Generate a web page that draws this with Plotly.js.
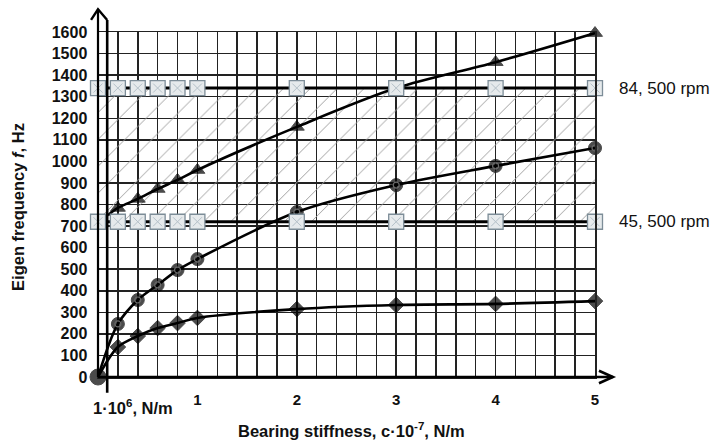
<!DOCTYPE html>
<html>
<head>
<meta charset="utf-8">
<script src="https://cdn.plot.ly/plotly-3.0.1.min.js"></script>
<style>html,body{margin:0;padding:0;background:#fff;}#chart{width:715px;height:443px;}</style>
</head>
<body>
<div id="chart"></div>
<script>
// ---- data ----
const triX = [0.1, 0.2, 0.4, 0.6, 0.8, 1, 2, 3, 4, 5];
const triY = [750, 784, 826, 872, 914, 960, 1160, 1340, 1460, 1595];
const circX = [0, 0.2, 0.4, 0.6, 0.8, 1, 2, 3, 4, 5];
const circY = [0, 246, 357, 427, 496, 547, 765, 890, 979, 1062];
const diaX = [0, 0.2, 0.4, 0.6, 0.8, 1, 2, 3, 4, 5];
const diaY = [0, 139, 190, 227, 250, 274, 315, 334, 339, 352];
const rpmX = [0, 0.2, 0.4, 0.6, 0.8, 1, 2, 3, 4, 5];
const rpmHigh = 1340;   // 84,500 rpm
const rpmLow = 720;     // 45,500 rpm
const rpmLabels = ["84, 500 rpm", "45, 500 rpm"];
const xTicks = [1, 2, 3, 4, 5];
const xTickText = ["1", "2", "3", "4", "5"];
const xGridStep = 0.2;

const FONT = "Arial, 'Liberation Sans', sans-serif";
const LINE = {color: '#000', width: 2.6, shape: 'spline', smoothing: 0.9};

// grid positions every 0.2, labels only at the integer ticks
const gridVals = [];
for (let i = 0; i <= Math.round(5 / xGridStep); i++) gridVals.push(+(i * xGridStep).toFixed(2));
const gridText = gridVals.map(v => {
  const k = xTicks.indexOf(v);
  return k >= 0 ? xTickText[k] : ' ';
});

const traces = [];
// hatched band between the two operating frequencies
traces.push({
  x: [rpmX[0], rpmX[rpmX.length-1], rpmX[rpmX.length-1], rpmX[0]],
  y: [rpmLow, rpmLow, rpmHigh, rpmHigh],
  mode: 'none', fill: 'toself', fillcolor: 'rgba(0,0,0,0)',
  fillpattern: {shape: '/', size: 19, solidity: 0.05, fgcolor: '#9c9c9c', bgcolor: 'rgba(0,0,0,0)'},
  hoverinfo: 'skip', showlegend: false
});
// triangles
traces.push({
  x: triX, y: triY, mode: 'lines+markers', line: LINE, cliponaxis: false,
  marker: {symbol: 'triangle-up', color: '#000', line: {color: '#000', width: 1},
           size: triX.map((v,i)=> i===0 ? 0 : 13)},
  showlegend: false
});
// circles
traces.push({
  x: circX, y: circY, mode: 'lines+markers', line: LINE, cliponaxis: false,
  marker: {symbol: 'circle', color: '#000', line: {color: '#000', width: 1},
           size: circX.map((v,i)=> i===0 ? 16 : 13)},
  showlegend: false
});
traces.push({
  x: circX.slice(1), y: circY.slice(1), mode: 'markers', cliponaxis: false,
  marker: {symbol: 'circle-open', size: 6, color: '#6a6a6a', line: {color: '#6a6a6a', width: 1.2}},
  showlegend: false, hoverinfo: 'skip'
});
// diamonds
traces.push({
  x: diaX, y: diaY, mode: 'lines+markers', line: LINE, cliponaxis: false,
  marker: {symbol: 'diamond', color: '#000', line: {color: '#000', width: 1},
           size: diaX.map((v,i)=> i===0 ? 0 : 12)},
  showlegend: false
});
// rpm lines with square markers
[rpmHigh, rpmLow].forEach(function(level){
  const ys = rpmX.map(()=> level);
  traces.push({
    x: rpmX, y: ys, mode: 'lines+markers', cliponaxis: false,
    line: {color: '#000', width: 3},
    marker: {symbol: 'square', size: 15, color: '#e6eaec', line: {color: '#7d8d98', width: 1.3}},
    showlegend: false
  });
  traces.push({
    x: rpmX, y: ys, mode: 'markers', cliponaxis: false,
    marker: {symbol: 'x-thin', size: 9, color: '#b4c0c8', line: {color: '#b4c0c8', width: 1}},
    showlegend: false, hoverinfo: 'skip'
  });
});

const ax = '#000';
const shapes = [
  // x axis with arrow
  {type: 'line', xref: 'paper', yref: 'paper', x0: 0, x1: 1.036, y0: 0, y1: 0, line: {color: ax, width: 2.6}},
  {type: 'path', xref: 'paper', yref: 'paper', path: 'M 1.008 0.018 L 1.036 0 L 1.008 -0.018', line: {color: ax, width: 2.6}},
  // y axis (double) with arrow
  {type: 'line', xref: 'paper', yref: 'paper', x0: 0, x1: 0, y0: 0, y1: 1.066, line: {color: ax, width: 2.2}},
  {type: 'line', xref: 'paper', yref: 'paper', x0: 0.0185, x1: 0.0185, y0: -0.046, y1: 1.035, line: {color: ax, width: 2.6}},
  {type: 'path', xref: 'paper', yref: 'paper', path: 'M -0.014 1.035 L 0 1.066 L 0.0185 1.035', line: {color: ax, width: 2.4}}
];

const annotations = [
  {xref: 'paper', yref: 'y', x: 1.044, y: rpmHigh, xanchor: 'left', yanchor: 'middle', showarrow: false,
   text: rpmLabels[0], font: {family: FONT, size: 17, color: '#111'}},
  {xref: 'paper', yref: 'y', x: 1.044, y: rpmLow, xanchor: 'left', yanchor: 'middle', showarrow: false,
   text: rpmLabels[1], font: {family: FONT, size: 17, color: '#111'}},
  {xref: 'paper', yref: 'paper', x: -0.014, y: -0.087, xanchor: 'left', yanchor: 'middle', showarrow: false,
   text: '1·10<sup>6</sup>, N/m', font: {family: FONT, size: 16.5, color: '#111', weight: 'bold'}},
  {xref: 'paper', yref: 'paper', x: 0.51, y: -0.155, xanchor: 'center', yanchor: 'middle', showarrow: false,
   text: 'Bearing stiffness, c·10<sup>-7</sup>, N/m', font: {family: FONT, size: 16.5, color: '#111', weight: 'bold'}},
  {xref: 'paper', yref: 'paper', x: -0.161, y: 0.493, xanchor: 'center', yanchor: 'middle', showarrow: false,
   textangle: -90, text: 'Eigen frequency <i>f</i>, Hz', font: {family: FONT, size: 16.5, color: '#111', weight: 'bold'}}
];

const grid = '#222';
const layout = {
  width: 715, height: 443,
  margin: {l: 98, r: 120, t: 32, b: 66},
  paper_bgcolor: '#fff', plot_bgcolor: '#fff',
  font: {family: FONT, color: '#111'},
  xaxis: {
    range: [0, 5], tickmode: 'array', tickvals: gridVals, ticktext: gridText,
    showgrid: true, gridcolor: grid, gridwidth: 1.5, zeroline: false,
    showline: true, mirror: true, linecolor: grid, linewidth: 1.5,
    ticks: '', ticklabelstandoff: 8,
    tickfont: {family: FONT, size: 15, color: '#111', weight: 'bold'}
  },
  yaxis: {
    range: [0, 1600], dtick: 100, tick0: 0,
    showgrid: true, gridcolor: grid, gridwidth: 1.5, zeroline: false,
    showline: true, mirror: true, linecolor: grid, linewidth: 1.5,
    ticks: '', ticklabelstandoff: 6,
    tickfont: {family: FONT, size: 16, color: '#111', weight: 'bold'}
  },
  shapes: shapes,
  annotations: annotations,
  showlegend: false
};

Plotly.newPlot('chart', traces, layout, {staticPlot: true, displayModeBar: false});
</script>
</body>
</html>
